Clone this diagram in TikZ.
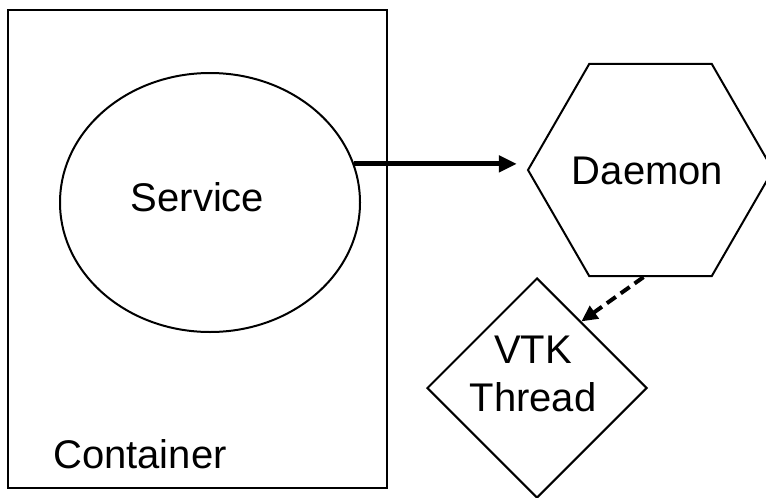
\documentclass[tikz,border=0pt]{standalone}
\usepackage{fontspec}
\setmainfont{Liberation Sans}
\usetikzlibrary{shapes.geometric,arrows.meta,calc}
\begin{document}
\begin{tikzpicture}[x=1pt,y=-1pt,
  shapeline/.style={draw=black,line width=2pt,inner sep=0pt},
  bigtext/.style={font=\fontsize{40}{48}\selectfont,inner sep=0pt},
  solidarrow/.style={line width=5pt,-{Triangle[length=18pt,width=16pt]}},
  dasharrow/.style={line width=4pt,dash pattern=on 11pt off 6pt,-{Triangle[length=16pt,width=15pt]}}]
\useasboundingbox (0,0) rectangle (766,498);
\node[shapeline,rectangle,minimum width=379pt,minimum height=478pt,line width=2.2pt] (cont) at (197.5,249) {};
\node[shapeline,ellipse,minimum width=300pt,minimum height=259pt] (svc) at (210,202.5) {};
\node[bigtext] (svclbl) at (197.5,197) {Service};
\node[bigtext,anchor=base west] (contlbl) at (53,468) {Container};
\node[shapeline,regular polygon,regular polygon sides=6,minimum size=245pt] (dmn) at (650.5,170) {};
\node[bigtext] (dmnlbl) at (647.5,170.5) {Daemon};
\node[shapeline,diamond,minimum width=220pt,minimum height=220pt] (thr) at (537,388) {};
\node[bigtext,align=center] (thrlbl) at (533,374) {VTK\\Thread};
\draw[solidarrow,shorten >=10pt] (svc.15) -- (svc.15 -| dmn.west);
\coordinate (dstart) at ($(dmn.south)+(-7,0)$);
\coordinate (dend) at ($(thr.north)!0.4!(thr.east)$);
\draw[dasharrow] (dstart) -- (dend);
\end{tikzpicture}
\end{document}
